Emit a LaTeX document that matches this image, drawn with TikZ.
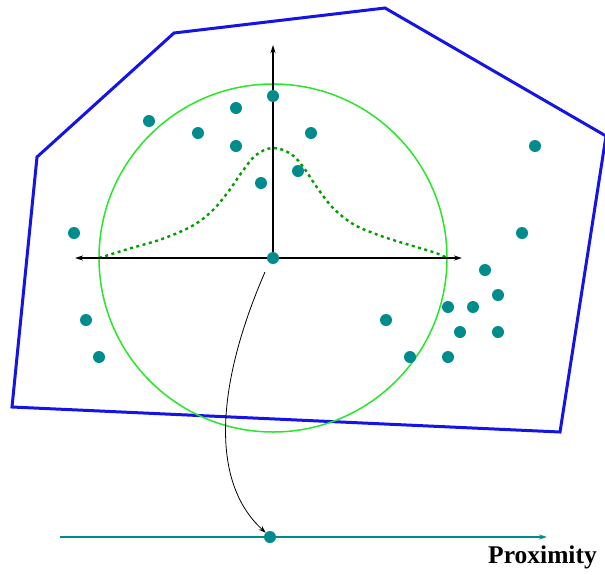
\documentclass[tikz,border=0pt]{standalone}
\usepackage{fontspec}
\setmainfont{Liberation Serif}
\usetikzlibrary{arrows.meta}
\definecolor{dotc}{RGB}{0,140,140}
\definecolor{ringc}{RGB}{40,230,40}
\definecolor{gaussc}{RGB}{0,160,0}
\definecolor{hullc}{RGB}{20,20,230}
\begin{document}
\begin{tikzpicture}[x=1pt,y=-1pt,
  pt/.style={circle,fill=dotc,inner sep=0pt,minimum size=12pt},
  axis/.style={line width=1.4pt,-{Stealth[length=8pt,width=5pt]}},
  hull/.style={draw=hullc,line width=3pt,line join=miter}]
\useasboundingbox (0,0) rectangle (605,574);
% hull
\draw[hull] (12,407) -- (37,157) -- (174,33) -- (385,8) -- (606,136) -- (560,432) -- cycle;
% circle
\draw[ringc,line width=1.5pt] (273,258) circle[radius=174pt];
% bell curve
\draw[gaussc,line width=2.4pt,dash pattern=on 3pt off 3.5pt]
  plot[smooth,tension=0.6] coordinates {(99,258) (128,249) (162,239) (192,226) (212,211) (228,192)
   (242,172) (256,155) (273,148) (291,154) (304,168) (316,186) (333,208) (353,224) (373,233)
   (393,240) (413,246) (436,253) (447,258)};
% axes
\coordinate (c0) at (273,258);
\coordinate (xl) at (75,258);
\coordinate (xr) at (462,258);
\coordinate (yt) at (273,45);
\draw[axis] (c0) -- (xl);
\draw[axis] (c0) -- (xr);
\draw[axis] (c0) -- (yt);
% points
\foreach \n/\px/\py in {a/273/96,b/236/108,c/149/121,d/198/133,e/236/146,f/311/133,g/298/171,h/261/183,
  i/535/146,j/74/233,k/522/233,l/485/270,m/498/295,n/448/307,o/473/307,p/386/320,q/460/332,r/498/332,
  s/86/320,t/99/357,u/410/357,v/448/357}
  \node[pt] (p\n) at (\px,\py) {};
\node[pt] (center) at (273,258) {};
% proximity line
\coordinate (pl) at (60,537);
\coordinate (pr) at (547,537);
\draw[dotc,line width=1.4pt,-{Stealth[length=8pt,width=5pt]}] (pl) -- (pr);
\node[pt] (target) at (270,537) {};
\draw[line width=0.8pt,-{Stealth[length=7pt,width=5pt]}] (265,272) .. controls (218,380) and (208,480) .. (target.north west);
\node[anchor=base east,font=\fontsize{25.5}{30}\selectfont\bfseries,inner sep=0pt] (lab) at (597,563) {Proximity};
\end{tikzpicture}
\end{document}
